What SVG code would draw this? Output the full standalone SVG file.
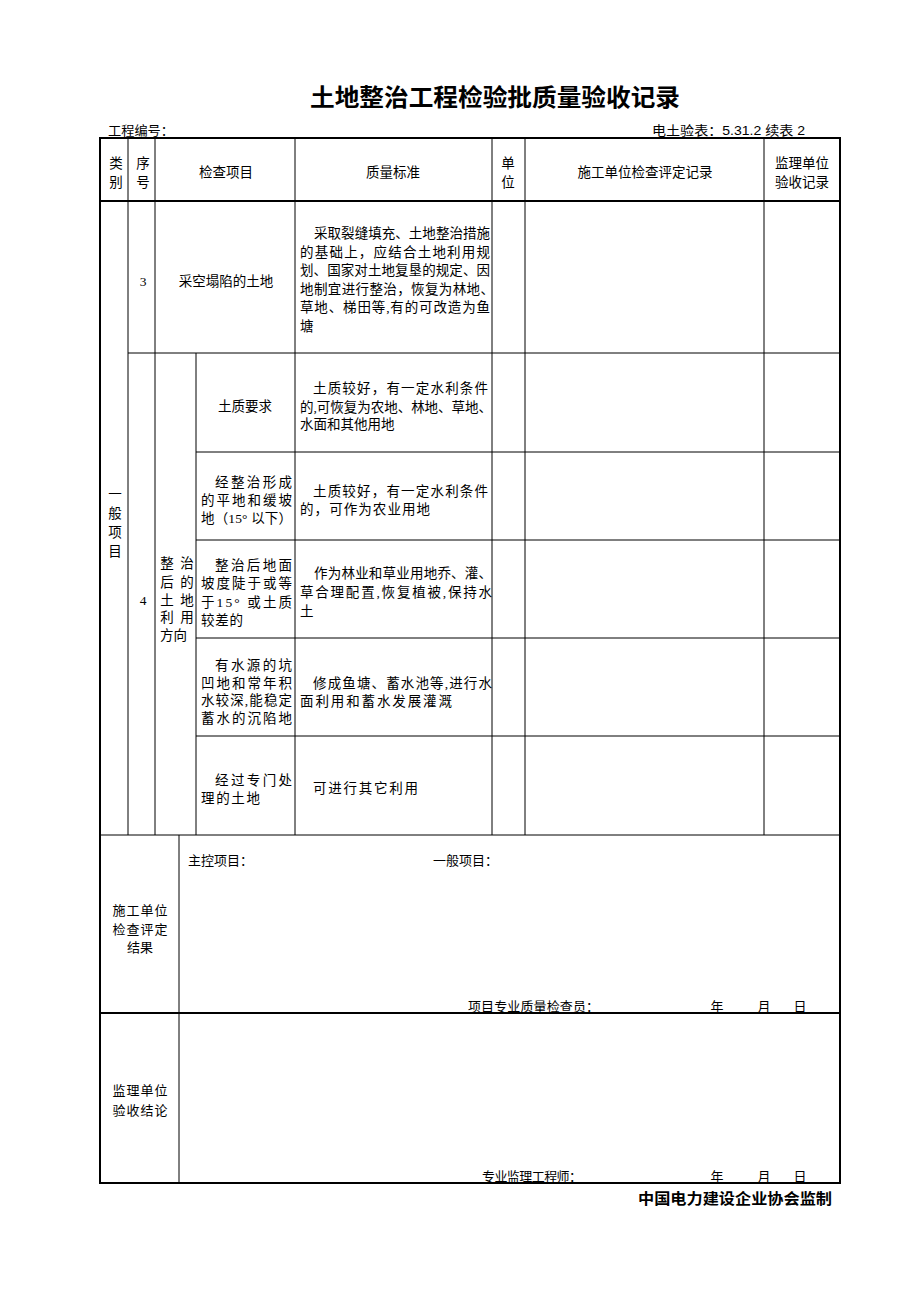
<svg xmlns="http://www.w3.org/2000/svg" width="920" height="1302" viewBox="0 0 920 1302">
<style>
text{fill:#000}
.t{font-family:"Liberation Serif","Noto Sans CJK SC",serif;font-size:13.5px}
.s{font-family:"Liberation Sans","Noto Sans CJK SC",sans-serif;font-size:13px}
.c{text-anchor:middle}
.title{font-family:"Liberation Sans","Noto Sans CJK SC",sans-serif;font-size:24px;font-weight:bold}
.foot{font-family:"Liberation Sans","Noto Sans CJK SC",sans-serif;font-size:15px;font-weight:bold}
.th{stroke:#000;stroke-width:1;fill:none}
.tk{stroke:#000;stroke-width:2;fill:none}
</style>
<rect width="920" height="1302" fill="#fff"/>
<g id="title">
<text class="title c" x="495" y="106" textLength="370" lengthAdjust="spacingAndGlyphs">土地整治工程检验批质量验收记录</text>
<text class="s" x="108" y="135" textLength="66" lengthAdjust="spacingAndGlyphs">工程编号：</text>
<text class="s" x="652" y="135" textLength="153" lengthAdjust="spacingAndGlyphs">电土验表：5.31.2 续表 2</text>
</g>
<g id="grid">
<line class="th" x1="128" y1="138" x2="128" y2="835"/>
<line class="th" x1="155" y1="138" x2="155" y2="835"/>
<line class="th" x1="196" y1="353" x2="196" y2="835"/>
<line class="th" x1="295" y1="138" x2="295" y2="835"/>
<line class="th" x1="492" y1="138" x2="492" y2="835"/>
<line class="th" x1="525" y1="138" x2="525" y2="835"/>
<line class="th" x1="764" y1="138" x2="764" y2="835"/>
<line class="tk" x1="100" y1="201" x2="840" y2="201"/>
<line class="th" x1="128" y1="353" x2="840" y2="353"/>
<line class="th" x1="196" y1="452" x2="840" y2="452"/>
<line class="th" x1="196" y1="540" x2="840" y2="540"/>
<line class="th" x1="196" y1="638" x2="840" y2="638"/>
<line class="th" x1="196" y1="736" x2="840" y2="736"/>
<line class="th" x1="100" y1="835" x2="840" y2="835"/>
<line class="th" x1="179" y1="835" x2="179" y2="1183"/>
<line class="tk" x1="100" y1="1013" x2="840" y2="1013"/>
<rect class="tk" x="100" y="138" width="740" height="1045"/>
</g>
<g id="header" class="t">
<text class="c" x="116" y="168">类</text>
<text class="c" x="116" y="187">别</text>
<text class="c" x="143" y="168">序</text>
<text class="c" x="143" y="187">号</text>
<text class="c" x="226" y="177">检查项目</text>
<text class="c" x="393" y="177">质量标准</text>
<text class="c" x="508" y="168">单</text>
<text class="c" x="508" y="187">位</text>
<text class="c" x="645" y="177">施工单位检查评定记录</text>
<text class="c" x="802" y="168">监理单位</text>
<text class="c" x="802" y="187">验收记录</text>
</g>
<g id="category" class="t">
<text class="c" x="115" y="499">一</text>
<text class="c" x="115" y="518">般</text>
<text class="c" x="115" y="537">项</text>
<text class="c" x="115" y="556">目</text>
</g>
<g id="row3" class="t">
<text class="c" x="143" y="286">3</text>
<text class="c" x="226" y="286">采空塌陷的土地</text>
<text x="314" y="238" textLength="176" lengthAdjust="spacing">采取裂缝填充、土地整治措施</text>
<text x="300" y="257" textLength="190" lengthAdjust="spacing">的基础上，应结合土地利用规</text>
<text x="300" y="275" textLength="190" lengthAdjust="spacing">划、国家对土地复垦的规定、因</text>
<text x="300" y="294" textLength="194" lengthAdjust="spacing">地制宜进行整治，恢复为林地、</text>
<text x="300" y="312" textLength="190" lengthAdjust="spacing">草地、梯田等,有的可改造为鱼</text>
<text x="300" y="331">塘</text>
</g>
<g id="row4" class="t">
<text class="c" x="143" y="605">4</text>
<text class="c" x="167" y="568">整</text><text class="c" x="187" y="568">治</text>
<text class="c" x="167" y="587">后</text><text class="c" x="187" y="587">的</text>
<text class="c" x="167" y="605">土</text><text class="c" x="187" y="605">地</text>
<text class="c" x="167" y="622">利</text><text class="c" x="187" y="622">用</text>
<text x="160" y="640">方向</text>
</g>
<g id="row4a" class="t">
<text class="c" x="245" y="411">土质要求</text>
<text x="313" y="393" textLength="175" lengthAdjust="spacing">土质较好，有一定水利条件</text>
<text x="300" y="412" textLength="192" lengthAdjust="spacing">的,可恢复为农地、林地、草地、</text>
<text x="300" y="429">水面和其他用地</text>
</g>
<g id="row4b" class="t">
<text x="215" y="487" textLength="77" lengthAdjust="spacing">经整治形成</text>
<text x="201" y="505" textLength="91" lengthAdjust="spacing">的平地和缓坡</text>
<text x="201" y="523" textLength="91" lengthAdjust="spacing">地（15° 以下）</text>
<text x="313" y="496" textLength="175" lengthAdjust="spacing">土质较好，有一定水利条件</text>
<text x="300" y="514" textLength="130" lengthAdjust="spacing">的，可作为农业用地</text>
</g>
<g id="row4c" class="t">
<text x="215" y="570" textLength="77" lengthAdjust="spacing">整治后地面</text>
<text x="201" y="588" textLength="91" lengthAdjust="spacing">坡度陡于或等</text>
<text x="201" y="607" textLength="91" lengthAdjust="spacing">于15° 或土质</text>
<text x="201" y="625" textLength="42" lengthAdjust="spacing">较差的</text>
<text x="314" y="578" textLength="178" lengthAdjust="spacing">作为林业和草业用地乔、灌、</text>
<text x="300" y="597" textLength="192" lengthAdjust="spacing">草合理配置,恢复植被,保持水</text>
<text x="300" y="616">土</text>
</g>
<g id="row4d" class="t">
<text x="215" y="670" textLength="77" lengthAdjust="spacing">有水源的坑</text>
<text x="201" y="688" textLength="91" lengthAdjust="spacing">凹地和常年积</text>
<text x="201" y="705" textLength="91" lengthAdjust="spacing">水较深,能稳定</text>
<text x="201" y="723" textLength="91" lengthAdjust="spacing">蓄水的沉陷地</text>
<text x="313" y="688" textLength="179" lengthAdjust="spacing">修成鱼塘、蓄水池等,进行水</text>
<text x="300" y="706" textLength="152" lengthAdjust="spacing">面利用和蓄水发展灌溉</text>
</g>
<g id="row4e" class="t">
<text x="215" y="785" textLength="77" lengthAdjust="spacing">经过专门处</text>
<text x="201" y="803" textLength="59" lengthAdjust="spacing">理的土地</text>
<text x="313" y="793" textLength="105" lengthAdjust="spacing">可进行其它利用</text>
</g>
<g id="contractor" class="s">
<text class="c" x="140" y="915" textLength="55" lengthAdjust="spacing">施工单位</text>
<text class="c" x="140" y="934" textLength="55" lengthAdjust="spacing">检查评定</text>
<text class="c" x="140" y="952">结果</text>
<text x="188" y="865">主控项目：</text>
<text x="433" y="865">一般项目：</text>
<text x="468" y="1011" textLength="131" lengthAdjust="spacing">项目专业质量检查员：</text>
<text class="c" x="717" y="1011">年</text>
<text class="c" x="764" y="1011">月</text>
<text class="c" x="800" y="1011">日</text>
</g>
<g id="supervisor" class="s">
<text class="c" x="140" y="1095" textLength="55" lengthAdjust="spacing">监理单位</text>
<text class="c" x="140" y="1115" textLength="55" lengthAdjust="spacing">验收结论</text>
<text x="482" y="1181" textLength="100" lengthAdjust="spacing">专业监理工程师：</text>
<text class="c" x="717" y="1181">年</text>
<text class="c" x="764" y="1181">月</text>
<text class="c" x="800" y="1181">日</text>
</g>
<g id="footer">
<text class="foot" x="832" y="1204" text-anchor="end" textLength="194" lengthAdjust="spacingAndGlyphs">中国电力建设企业协会监制</text>
</g>
</svg>
